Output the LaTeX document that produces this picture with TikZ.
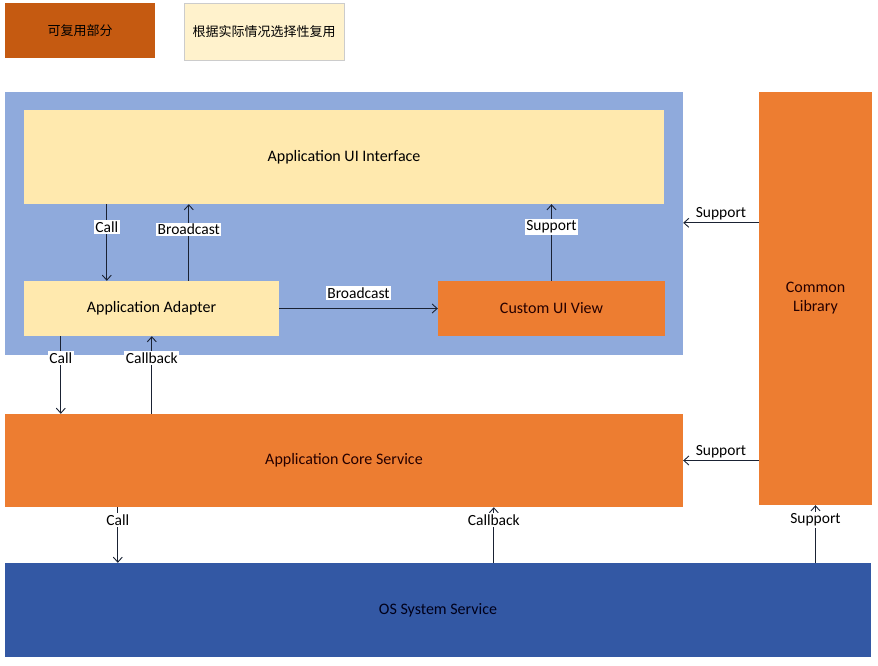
\documentclass[tikz,border=0pt]{standalone}
\usepackage{fontspec}
\setmainfont{Carlito}
\newfontfamily\cjkfont{Noto Sans CJK SC}
\usetikzlibrary{arrows.meta}

\definecolor{reuseorange}{HTML}{C55A11}
\definecolor{paleyellow}{HTML}{FFF2CC}
\definecolor{boxyellow}{HTML}{FFE9AE}
\definecolor{frameblue}{HTML}{8FAADC}
\definecolor{coreorange}{HTML}{ED7D31}
\definecolor{osblue}{HTML}{3358A4}
\definecolor{linkcolor}{HTML}{1A2233}

\tikzset{
  block/.style={inner sep=0pt, align=center, font=\fontsize{16}{19}\selectfont},
  link/.style={draw=linkcolor, line width=0.9pt, -{Straight Barb[length=5pt,width=9pt]}},
  tag/.style={fill=white, inner sep=1.5pt, font=\fontsize{15.5}{18}\selectfont},
}

\begin{document}
\begin{tikzpicture}[x=1pt,y=-1pt]
	\useasboundingbox (0,0) rectangle (878,665);
	
	% legend
	\node [block, fill=reuseorange, minimum width=150pt, minimum height=55pt] (legreuse) at (80,30.5) {\cjkfont\fontsize{13}{15}\selectfont 可复用部分};
	\node [block, fill=paleyellow, draw=black!20, minimum width=160pt, minimum height=57pt] (legchoice) at (264,31.5) {\cjkfont\fontsize{13}{15}\selectfont 根据实际情况选择性复用};
	
	% application layer
	\node [block, fill=frameblue, minimum width=678pt, minimum height=263pt] (applayer) at (344,223.5) {};
	\node [block, fill=boxyellow, minimum width=640pt, minimum height=94pt] (uiface) at (344,157) {Application UI Interface};
	\node [block, fill=boxyellow, minimum width=255pt, minimum height=55pt] (adapter) at (151.5,308.5) {Application Adapter};
	\node [block, fill=coreorange, text=black!85!red, minimum width=227pt, minimum height=55pt] (customview) at (551.5,308.5) {Custom UI View};
	
	% common library
	\node [block, fill=coreorange, text=black!85!red, minimum width=113pt, minimum height=413pt] (commonlib) at (815.5,298.5) {Common\\Library};
	
	% core and system
	\node [block, fill=coreorange, text=black!85!red, minimum width=678pt, minimum height=93pt] (coreservice) at (344,460.5) {Application Core Service};
	\node [block, fill=osblue, text=black!90!blue, minimum width=866pt, minimum height=94pt] (osservice) at (438,610) {OS System Service};
	
	% inside the application layer
	\draw [link] ([xshift=83pt]uiface.south west) -- node [tag, pos=0.3] {Call} ([xshift=83pt]adapter.north west);
	\draw [link] ([xshift=165pt]adapter.north west) -- node [tag, pos=0.67] {Broadcast} ([xshift=165pt]uiface.south west);
	\draw [link] (adapter.east) -- node [tag, above=8pt] {Broadcast} (customview.east -| customview.west);
	\draw [link] (customview.north) -- node [tag, pos=0.7] {Support} (customview.north |- uiface.south);
	
	% application layer and core
	\draw [link] ([xshift=37pt]adapter.south west) -- node [tag, pos=0.28] {Call} ([xshift=37pt]adapter.south west |- coreservice.north);
	\draw [link] ([xshift=128pt]adapter.south west |- coreservice.north) -- node [tag, pos=0.72] {Callback} ([xshift=128pt]adapter.south west);
	
	% core and system
	\draw [link] ([xshift=113pt]coreservice.south west) -- node [tag, pos=0.23] {Call} ([xshift=113pt]coreservice.south west |- osservice.north);
	\draw [link] ([xshift=489pt]coreservice.south west |- osservice.north) -- node [tag, pos=0.77] {Callback} ([xshift=489pt]coreservice.south west);
	\draw [link] (commonlib.south |- osservice.north) -- node [tag, pos=0.74] {Support} (commonlib.south);
	
	% common library support
	\draw [link] ([yshift=-131pt]commonlib.north west) -- node [tag, above=1pt] {Support} ([yshift=-131pt]commonlib.north west -| applayer.east);
	\draw [link] (commonlib.west |- coreservice.center) -- node [tag, above=1pt] {Support} (coreservice.east);
	
\end{tikzpicture}
\end{document}
